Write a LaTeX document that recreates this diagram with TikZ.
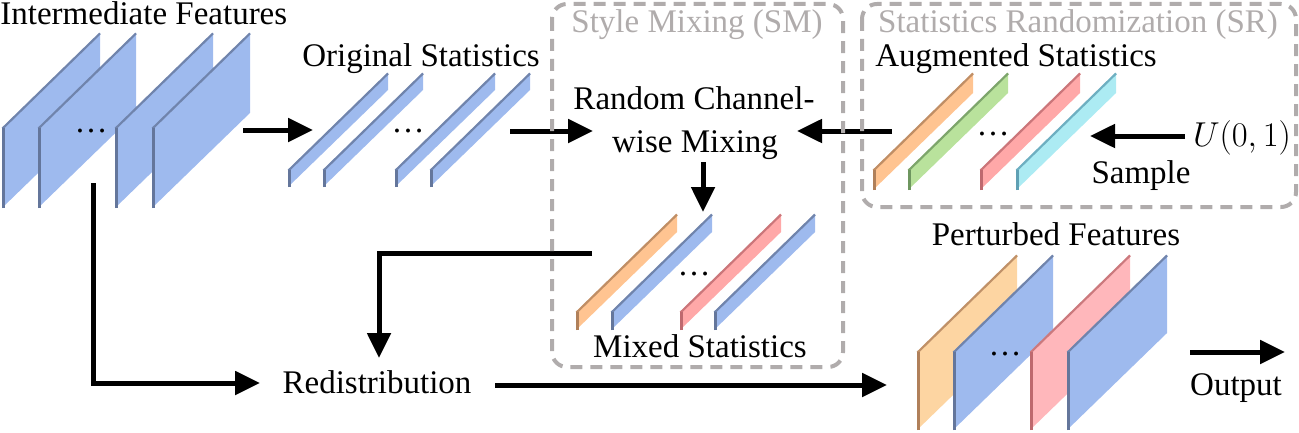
\documentclass[tikz,border=0pt]{standalone}
\usepackage{fontspec}
\setmainfont{Liberation Serif}
\usetikzlibrary{arrows.meta}
\definecolor{bfill}{RGB}{158,186,238}
\definecolor{bedge}{RGB}{100,118,155}
\definecolor{ofill}{RGB}{255,196,145}
\definecolor{oedge}{RGB}{176,128,90}
\definecolor{gfill}{RGB}{185,226,156}
\definecolor{gedge}{RGB}{110,150,95}
\definecolor{rfill}{RGB}{255,168,168}
\definecolor{redge}{RGB}{190,105,110}
\definecolor{cfill}{RGB}{172,235,243}
\definecolor{cedge}{RGB}{95,160,180}
\definecolor{pofill}{RGB}{253,213,162}
\definecolor{prfill}{RGB}{255,183,187}
\definecolor{boxgray}{RGB}{176,172,172}
\newcommand\slab[6]{%
  \fill[#5] (#1,#2) -- (#1,{#2-#4}) -- ({#1+#3},{#2-#4-0.97*#3}) -- ({#1+#3},{#2-0.97*#3}) -- cycle;
  \draw[#6!80!#5, line width=1.1pt] ({#1+0.5},{#2-#4+0.5}) -- ({#1+#3},{#2-#4-0.97*#3+0.5});
  \draw[#6, line width=1.5pt] ({#1+1.5},#2) -- ({#1+1.5},{#2-#4});
}
\begin{document}
\begin{tikzpicture}[x=0.5pt,y=-0.5pt,
  lbl/.style={inner sep=0pt, anchor=base, font=\fontsize{16.5pt}{20pt}\selectfont},
  ttl/.style={lbl, text=boxgray},
  arr/.style={line width=2.5pt, -{Triangle[length=12.5pt,width=11.5pt]}},
  dbox/.style={draw=boxgray, line width=2pt, dash pattern=on 6pt off 4pt, rounded corners=7.5pt}]
\useasboundingbox (0,0) rectangle (1299,433);

% intermediate features
\slab{2}{208}{98}{80}{bfill}{bedge}
\slab{38}{208}{98}{80}{bfill}{bedge}
\slab{115}{208}{98}{80}{bfill}{bedge}
\slab{152}{208}{98}{80}{bfill}{bedge}
% original statistics
\slab{288}{187}{100}{17}{bfill}{bedge}
\slab{323}{187}{100}{17}{bfill}{bedge}
\slab{395}{187}{100}{17}{bfill}{bedge}
\slab{430}{187}{100}{17}{bfill}{bedge}
% augmented statistics
\slab{873}{190}{100}{20}{ofill}{oedge}
\slab{908}{190}{100}{20}{gfill}{gedge}
\slab{980}{190}{100}{20}{rfill}{redge}
\slab{1016}{190}{100}{20}{cfill}{cedge}
% mixed statistics
\slab{576}{330}{101}{18}{ofill}{oedge}
\slab{611}{330}{101}{18}{bfill}{bedge}
\slab{680}{330}{101}{18}{rfill}{redge}
\slab{714}{330}{101}{18}{bfill}{bedge}
% perturbed features
\slab{917}{430}{100}{78}{pofill}{oedge}
\slab{953}{430}{100}{78}{bfill}{bedge}
\slab{1030}{430}{100}{78}{prfill}{redge}
\slab{1067}{430}{100}{78}{bfill}{bedge}

% dots
\node[lbl] (d1) at (91,133) {…};
\node[lbl] (d2) at (408,133) {…};
\node[lbl] (d3) at (993,135) {…};
\node[lbl] (d4) at (694,275) {…};
\node[lbl] (d5) at (1005,355) {…};

% labels
\node[lbl, anchor=base west] (tif) at (0,25) {Intermediate Features};
\node[lbl] (tos) at (421,67) {Original Statistics};
\node[ttl] (tsm) at (697,33) {Style Mixing (SM)};
\node[ttl] (tsr) at (1078,33) {Statistics Randomization (SR)};
\node[lbl] (tas) at (1016,67) {Augmented Statistics};
\node[lbl] (rcm1) at (694,110) {Random Channel-};
\node[lbl] (rcm2) at (695,152) {wise Mixing};
\node[lbl] (tu) at (1242,147) {$U(0,1)$};
\node[lbl] (tsam) at (1141,183) {Sample};
\node[lbl] (tms) at (700,357) {Mixed Statistics};
\node[lbl] (tred) at (377,393) {Redistribution};
\node[lbl] (tpf) at (1056,245) {Perturbed Features};
\node[lbl] (tout) at (1236,395) {Output};

% arrow end points
\coordinate (a1s) at (243,130); \coordinate (a1e) at (313,130);
\coordinate (a2s) at (510,131); \coordinate (a2e) at (593,131);
\coordinate (a3s) at (892,131); \coordinate (a3e) at (797,131);
\coordinate (a4s) at (1185,136); \coordinate (a4e) at (1090,136);
\coordinate (a5s) at (703,162); \coordinate (a5e) at (703,212);
\coordinate (a6s) at (592,253); \coordinate (a6e) at (379,358);
\coordinate (a7s) at (93,183); \coordinate (a7e) at (260,383);
\coordinate (a8s) at (495,385); \coordinate (a8e) at (887,385);
\coordinate (a9s) at (1190,352); \coordinate (a9e) at (1285,352);

\draw[arr] (a1s) -- (a1e);
\draw[arr] (a2s) -- (a2e);
\draw[arr] (a3s) -- (a3e);
\draw[arr] (a4s) -- (a4e);
\draw[arr] (a5s) -- (a5e);
\draw[arr] (a6s) -| (a6e);
\draw[arr] (a7s) |- (a7e);
\draw[arr] (a8s) -- (a8e);
\draw[arr] (a9s) -- (a9e);

% dashed boxes
\draw[dbox] (552,4) rectangle (843,367);
\draw[dbox] (862,4) rectangle (1296,207);
\end{tikzpicture}
\end{document}
